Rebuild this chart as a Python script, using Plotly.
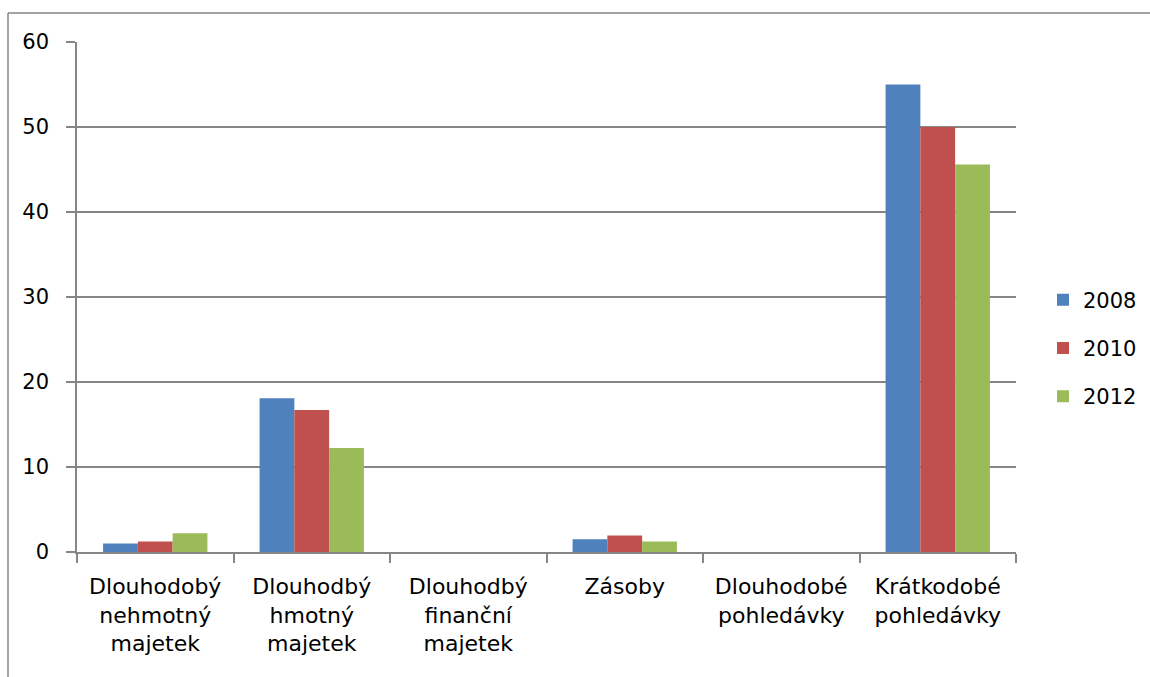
import plotly.graph_objects as go

categories = [
    "Dlouhodobý<br>nehmotný<br>majetek",
    "Dlouhodbý<br>hmotný<br>majetek",
    "Dlouhodbý<br>finanční<br>majetek",
    "Zásoby",
    "Dlouhodobé<br>pohledávky",
    "Krátkodobé<br>pohledávky",
]
years = ["2008", "2010", "2012"]
values_2008 = [1.0, 18.1, 0.0, 1.5, 0.0, 55.0]
values_2010 = [1.25, 16.7, 0.0, 1.95, 0.0, 50.0]
values_2012 = [2.2, 12.25, 0.0, 1.25, 0.0, 45.6]
colors = ["#4F81BD", "#C0504D", "#9BBB59"]

W, H = 1150, 677
L, R, T, B = 77, 134, 42, 125
pw, ph = W - L - R, H - T - B
grid = "#868686"
font_family = "DejaVu Sans"

fig = go.Figure()
for i, (name, vals) in enumerate(zip(years, [values_2008, values_2010, values_2012])):
    fig.add_trace(go.Bar(
        x=categories, y=vals, name=name,
        marker=dict(color=colors[i], line=dict(width=0)),
        legendgroup=name,
    ))

fig.update_layout(
    width=W, height=H,
    margin=dict(l=L, r=R, t=T, b=B, pad=0, autoexpand=False),
    paper_bgcolor="white", plot_bgcolor="white",
    barmode="group", bargap=1/3, bargroupgap=0,
    font=dict(family=font_family, color="black", size=21),
    legend=dict(
        xref="container", yref="container",
        x=1043 / W, xanchor="left",
        y=1 - 348 / H, yanchor="middle",
        font=dict(size=21), tracegroupgap=18,
        bgcolor="rgba(0,0,0,0)",
    ),
    showlegend=True,
)

fig.update_xaxes(
    type="category",
    showline=True, linecolor=grid, linewidth=1.5,
    ticks="outside", tickson="boundaries", ticklen=9, tickcolor=grid, tickwidth=1.5,
    showgrid=False,
    ticklabelstandoff=14,
    tickfont=dict(size=22),
)
fig.update_yaxes(
    range=[0, 60], dtick=10,
    showline=True, linecolor=grid, linewidth=1.5,
    showgrid=True, gridcolor=grid, gridwidth=1.5,
    zeroline=False,
    ticks="outside", ticklen=9, tickcolor=grid, tickwidth=1.5,
    ticklabelstandoff=13,
    tickfont=dict(size=21),
)

# chart-area border (top and left edges)
fig.add_shape(type="line", xref="paper", yref="paper",
              x0=(8 - L) / pw, x1=(W + 5 - L) / pw,
              y0=(H - B - 13) / ph, y1=(H - B - 13) / ph,
              line=dict(color=grid, width=1.5))
fig.add_shape(type="line", xref="paper", yref="paper",
              x0=(8 - L) / pw, x1=(8 - L) / pw,
              y0=(H - B - 13) / ph, y1=(H - B - H - 5) / ph,
              line=dict(color=grid, width=1.5))

fig.write_html("out.html")
